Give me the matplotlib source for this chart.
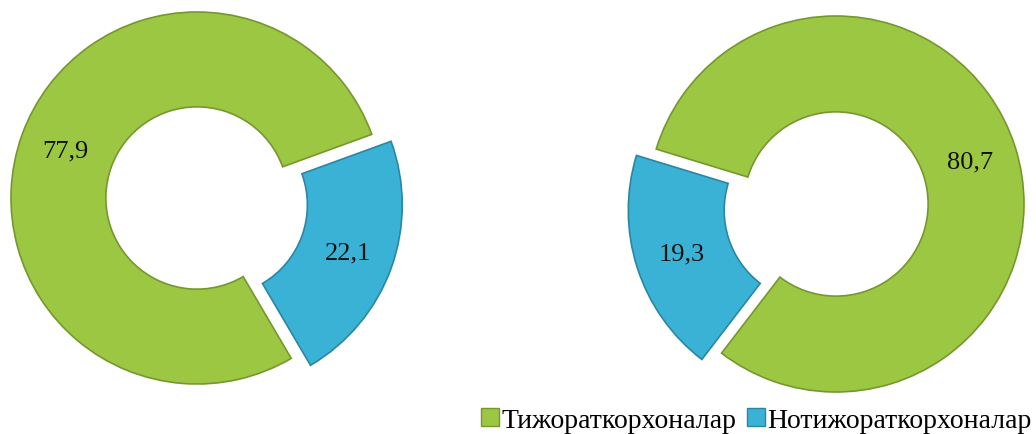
import matplotlib.pyplot as plt
from matplotlib.patches import Patch

plt.rcParams['font.family'] = ['Liberation Serif', 'DejaVu Serif']

labels = ['Нотижораткорхоналар', 'Тижораткорхоналар']
left_values = [22.1, 77.9]
right_values = [19.3, 80.7]

blue = '#3AB2D6'
green = '#9CC743'
blue_edge = '#2A86A3'
green_edge = '#76972E'

W, H = 1036, 435
fig = plt.figure(figsize=(W / 100, H / 100), dpi=100)


def donut(cx, cy, r, values, start):
    ax = fig.add_axes([(cx - r) / W, (H - cy - r) / H, 2 * r / W, 2 * r / H])
    wedges, texts, autotexts = ax.pie(
        values, colors=[blue, green], startangle=start, counterclock=False,
        explode=[0.11, 0], radius=1, pctdistance=0.75,
        autopct=lambda p: f'{p:.1f}'.replace('.', ','),
        wedgeprops=dict(width=0.51, linewidth=1.2),
        textprops=dict(fontsize=19, color='#111111'))
    for w, ec in zip(wedges, [blue_edge, green_edge]):
        w.set_edgecolor(ec)
        w.set_clip_on(False)
    ax.set_xlim(-1, 1)
    ax.set_ylim(-1, 1)
    ax.set_aspect('equal')
    ax.axis('off')
    return wedges


donut(197, 199, 186, left_values, 20)
donut(836, 205, 188, right_values, 232.5)

handles = [Patch(facecolor=green, edgecolor=green_edge), Patch(facecolor=blue, edgecolor=blue_edge)]
fig.legend(handles, [labels[1], labels[0]], loc='lower right', bbox_to_anchor=(1.02, -0.055),
           ncol=2, frameon=False, fontsize=20, handlelength=0.65, handleheight=0.65,
           handletextpad=0.1, columnspacing=0.35)

fig.savefig('out.png', dpi=100)
